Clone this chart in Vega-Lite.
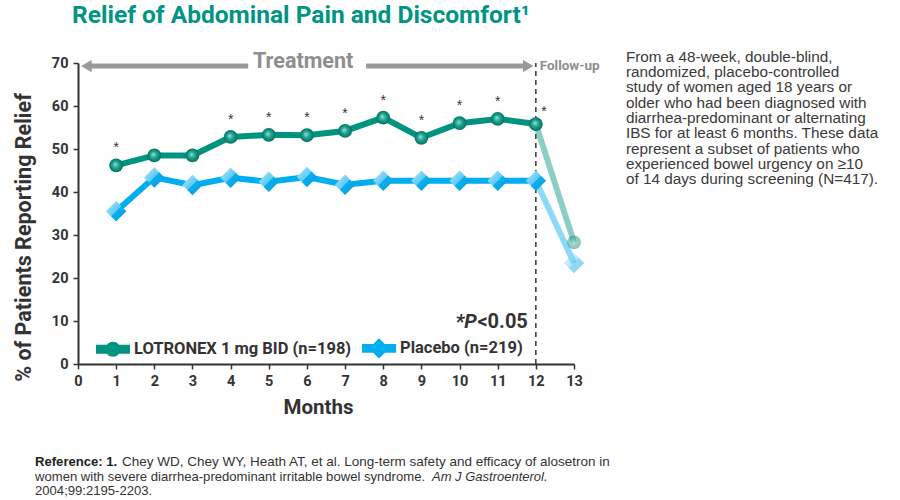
{
  "$schema": "https://vega.github.io/schema/vega-lite/v6.json",
  "width": 496,
  "height": 301,
  "autosize": {"type": "none"},
  "padding": {"left": 78, "top": 63, "right": 326, "bottom": 136},
  "background": "white",
  "title": {
    "text": "Relief of Abdominal Pain and Discomfort¹",
    "anchor": "start",
    "frame": "group",
    "dx": -6,
    "offset": 21,
    "font": "Roboto",
    "fontSize": 24.5,
    "fontWeight": "bold",
    "color": "#009484"
  },
  "config": {
    "view": {"stroke": null},
    "font": "Roboto",
    "axis": {
      "labelOverlap": false, "grid": false,
      "domainColor": "#333333", "domainWidth": 2, "tickColor": "#333333", "tickWidth": 1.5, "tickSize": 5,
      "labelFontSize": 14.5, "labelFontWeight": "bold", "labelColor": "#333333", "labelPadding": 5,
      "titleFontWeight": "bold", "titleColor": "#333333"
    },
    "axisX": {"labelFlush": false, "titleFontSize": 20.5, "titlePadding": 10},
    "axisY": {"titleFontSize": 21.5, "titlePadding": 16}
  },
  "datasets": {
    "d": [
      {"month": 1, "group": "LOTRONEX 1 mg BID (n=198)", "value": 46.2, "sig": true},
      {"month": 2, "group": "LOTRONEX 1 mg BID (n=198)", "value": 48.5, "sig": false},
      {"month": 3, "group": "LOTRONEX 1 mg BID (n=198)", "value": 48.5, "sig": false},
      {"month": 4, "group": "LOTRONEX 1 mg BID (n=198)", "value": 52.8, "sig": true},
      {"month": 5, "group": "LOTRONEX 1 mg BID (n=198)", "value": 53.3, "sig": true},
      {"month": 6, "group": "LOTRONEX 1 mg BID (n=198)", "value": 53.2, "sig": true},
      {"month": 7, "group": "LOTRONEX 1 mg BID (n=198)", "value": 54.2, "sig": true},
      {"month": 8, "group": "LOTRONEX 1 mg BID (n=198)", "value": 57.3, "sig": true},
      {"month": 9, "group": "LOTRONEX 1 mg BID (n=198)", "value": 52.6, "sig": true},
      {"month": 10, "group": "LOTRONEX 1 mg BID (n=198)", "value": 56.0, "sig": true},
      {"month": 11, "group": "LOTRONEX 1 mg BID (n=198)", "value": 57.0, "sig": true},
      {"month": 12, "group": "LOTRONEX 1 mg BID (n=198)", "value": 55.8, "sig": true},
      {"month": 13, "group": "LOTRONEX 1 mg BID (n=198)", "value": 28.3, "sig": false},
      {"month": 1, "group": "Placebo (n=219)", "value": 35.5, "sig": false},
      {"month": 2, "group": "Placebo (n=219)", "value": 43.4, "sig": false},
      {"month": 3, "group": "Placebo (n=219)", "value": 41.6, "sig": false},
      {"month": 4, "group": "Placebo (n=219)", "value": 43.3, "sig": false},
      {"month": 5, "group": "Placebo (n=219)", "value": 42.4, "sig": false},
      {"month": 6, "group": "Placebo (n=219)", "value": 43.5, "sig": false},
      {"month": 7, "group": "Placebo (n=219)", "value": 41.7, "sig": false},
      {"month": 8, "group": "Placebo (n=219)", "value": 42.6, "sig": false},
      {"month": 9, "group": "Placebo (n=219)", "value": 42.6, "sig": false},
      {"month": 10, "group": "Placebo (n=219)", "value": 42.6, "sig": false},
      {"month": 11, "group": "Placebo (n=219)", "value": 42.6, "sig": false},
      {"month": 12, "group": "Placebo (n=219)", "value": 42.6, "sig": false},
      {"month": 13, "group": "Placebo (n=219)", "value": 23.5, "sig": false}
    ]
  },
  "layer": [
    {
      "data": {"name": "d"},
      "transform": [{"filter": "datum.month <= 12"}],
      "mark": {"type": "line", "strokeWidth": 6},
      "encoding": {
        "x": {
          "field": "month", "type": "quantitative",
          "scale": {"domain": [0, 13], "nice": false, "zero": true},
          "axis": {"title": "Months", "values": [0,1,2,3,4,5,6,7,8,9,10,11,12,13], "labelOverlap": false, "titleX": 240}
        },
        "y": {
          "field": "value", "type": "quantitative",
          "scale": {"domain": [0, 70], "nice": false},
          "axis": {"title": "% of Patients Reporting Relief", "values": [0,10,20,30,40,50,60,70], "titleY": 174}
        },
        "color": {
          "field": "group", "type": "nominal",
          "scale": {"domain": ["LOTRONEX 1 mg BID (n=198)", "Placebo (n=219)"], "range": ["#00937f", "#00aeef"]},
          "legend": {
            "title": null, "orient": "none", "direction": "horizontal", "legendX": 18, "legendY": 268,
            "padding": 0, "symbolSize": 1156, "labelFontSize": 16.5, "labelFontWeight": "bold", "labelColor": "#333333",
            "labelOffset": 4, "columnPadding": 10, "labelLimit": 400,
            "encode": {
              "symbols": {
                "update": {
                  "shape": {"signal": "datum.value === 'Placebo (n=219)' ? 'M-1,-0.26L1,-0.26L1,0.26L-1,0.26Z M-0.6,0L0,-0.6L0.6,0L0,0.6Z' : 'M-1,-0.26L1,-0.26L1,0.26L-1,0.26Z M-0.44,0A0.44,0.44,0,1,1,0.44,0A0.44,0.44,0,1,1,-0.44,0Z'"},
                  "fill": {"signal": "datum.value === 'Placebo (n=219)' ? '#00aeef' : '#00937f'"},
                  "stroke": {"value": "transparent"},
                  "strokeWidth": {"value": 0},
                  "opacity": {"value": 1},
                  "fillOpacity": {"value": 1}
                }
              }
            }
          }
        }
      }
    },
    {
      "data": {"values": [{}]},
      "mark": {"type": "rule", "strokeDash": [5, 4], "strokeWidth": 1.5, "color": "#333333"},
      "encoding": {
        "x": {"datum": 12, "type": "quantitative", "axis": {"title": "Months", "values": [0,1,2,3,4,5,6,7,8,9,10,11,12,13], "labelOverlap": false}},
        "y": {"datum": 0, "type": "quantitative"},
        "y2": {"datum": 70}
      }
    },
    {
      "data": {"values": [{}]},
      "mark": {"type": "rule", "strokeWidth": 5, "color": "#999999"},
      "encoding": {
        "x": {"datum": 0.3, "type": "quantitative", "axis": {"title": "Months", "values": [0,1,2,3,4,5,6,7,8,9,10,11,12,13], "labelOverlap": false}},
        "x2": {"datum": 4.46},
        "y": {"datum": 69.3, "type": "quantitative"}
      }
    },
    {
      "data": {"values": [{}]},
      "mark": {"type": "rule", "strokeWidth": 5, "color": "#999999"},
      "encoding": {
        "x": {"datum": 7.55, "type": "quantitative", "axis": {"title": "Months", "values": [0,1,2,3,4,5,6,7,8,9,10,11,12,13], "labelOverlap": false}},
        "x2": {"datum": 11.7},
        "y": {"datum": 69.3, "type": "quantitative"}
      }
    },
    {
      "data": {"values": [{}]},
      "mark": {"type": "point", "shape": "triangle-left", "filled": true, "size": 150, "color": "#999999", "opacity": 1},
      "encoding": {
        "x": {"datum": 0.22, "type": "quantitative", "axis": {"title": "Months", "values": [0,1,2,3,4,5,6,7,8,9,10,11,12,13], "labelOverlap": false}},
        "y": {"datum": 69.3, "type": "quantitative"}
      }
    },
    {
      "data": {"values": [{}]},
      "mark": {"type": "point", "shape": "triangle-right", "filled": true, "size": 150, "color": "#999999", "opacity": 1},
      "encoding": {
        "x": {"datum": 11.8, "type": "quantitative", "axis": {"title": "Months", "values": [0,1,2,3,4,5,6,7,8,9,10,11,12,13], "labelOverlap": false}},
        "y": {"datum": 69.3, "type": "quantitative"}
      }
    },
    {
      "data": {"values": [{}]},
      "mark": {"type": "text", "text": "Treatment", "fontSize": 21.5, "fontWeight": "bold", "color": "#8e8e8e", "baseline": "middle", "align": "center"},
      "encoding": {
        "x": {"datum": 5.9, "type": "quantitative", "axis": {"title": "Months", "values": [0,1,2,3,4,5,6,7,8,9,10,11,12,13], "labelOverlap": false}},
        "y": {"datum": 70.3, "type": "quantitative"}
      }
    },
    {
      "data": {"values": [{}]},
      "mark": {"type": "text", "text": "Follow-up", "fontSize": 13.5, "fontWeight": "bold", "color": "#8e8e8e", "baseline": "middle", "align": "left"},
      "encoding": {
        "x": {"datum": 12.1, "type": "quantitative", "axis": {"title": "Months", "values": [0,1,2,3,4,5,6,7,8,9,10,11,12,13], "labelOverlap": false}},
        "y": {"datum": 69.2, "type": "quantitative"}
      }
    },
    {
      "data": {"name": "d"},
      "transform": [{"filter": "datum.month >= 12"}],
      "mark": {"type": "line", "strokeWidth": 6, "opacity": 0.45},
      "encoding": {
        "x": {"field": "month", "type": "quantitative", "axis": {"title": "Months", "values": [0,1,2,3,4,5,6,7,8,9,10,11,12,13], "labelOverlap": false}},
        "y": {"field": "value", "type": "quantitative"},
        "color": {"field": "group", "type": "nominal"}
      }
    },
    {
      "data": {"name": "d"},
      "transform": [{"filter": "datum.group === 'LOTRONEX 1 mg BID (n=198)'"}],
      "mark": {
        "type": "point", "shape": "circle", "size": 190, "filled": true, "strokeWidth": 0,
        "fill": {"gradient": "radial", "x1": 0.42, "y1": 0.42, "r1": 0, "x2": 0.5, "y2": 0.5, "r2": 0.5,
          "stops": [{"offset": 0, "color": "#9fe0d6"}, {"offset": 0.45, "color": "#22a795"}, {"offset": 1, "color": "#00705f"}]}
      },
      "encoding": {
        "x": {"field": "month", "type": "quantitative", "axis": {"title": "Months", "values": [0,1,2,3,4,5,6,7,8,9,10,11,12,13], "labelOverlap": false}},
        "y": {"field": "value", "type": "quantitative"},
        "opacity": {"condition": {"test": "datum.month > 12", "value": 0.45}, "value": 1}
      }
    },
    {
      "data": {"name": "d"},
      "transform": [{"filter": "datum.group === 'Placebo (n=219)'"}],
      "mark": {
        "type": "point", "shape": "diamond", "size": 420, "filled": true, "strokeWidth": 0,
        "fill": {"gradient": "linear", "x1": 0, "y1": 0, "x2": 1, "y2": 1,
          "stops": [{"offset": 0, "color": "#b5e8fb"}, {"offset": 0.49, "color": "#5fcaf4"}, {"offset": 0.5, "color": "#0cb0ef"}, {"offset": 1, "color": "#0398d8"}]}
      },
      "encoding": {
        "x": {"field": "month", "type": "quantitative", "axis": {"title": "Months", "values": [0,1,2,3,4,5,6,7,8,9,10,11,12,13], "labelOverlap": false}},
        "y": {"field": "value", "type": "quantitative"},
        "opacity": {"condition": {"test": "datum.month > 12", "value": 0.45}, "value": 1}
      }
    },
    {
      "data": {"name": "d"},
      "transform": [{"filter": "datum.sig && datum.month < 12"}],
      "mark": {"type": "text", "text": "*", "fontSize": 14, "color": "#333333", "dy": -17, "baseline": "middle", "font": "Liberation Sans"},
      "encoding": {
        "x": {"field": "month", "type": "quantitative", "axis": {"title": "Months", "values": [0,1,2,3,4,5,6,7,8,9,10,11,12,13], "labelOverlap": false}},
        "y": {"field": "value", "type": "quantitative"}
      }
    },
    {
      "data": {"name": "d"},
      "transform": [{"filter": "datum.sig && datum.month == 12"}],
      "mark": {"type": "text", "text": "*", "fontSize": 14, "color": "#333333", "dy": -12, "dx": 8, "baseline": "middle", "font": "Liberation Sans"},
      "encoding": {
        "x": {"field": "month", "type": "quantitative", "axis": {"title": "Months", "values": [0,1,2,3,4,5,6,7,8,9,10,11,12,13], "labelOverlap": false}},
        "y": {"field": "value", "type": "quantitative"}
      }
    },
    {
      "data": {"values": [{}]},
      "mark": {"type": "text", "text": "<0.05", "fontSize": 20, "fontWeight": "bold", "color": "#333333", "align": "right", "baseline": "alphabetic"},
      "encoding": {
        "x": {"datum": 11.79, "type": "quantitative", "axis": {"title": "Months", "values": [0,1,2,3,4,5,6,7,8,9,10,11,12,13], "labelOverlap": false}},
        "y": {"datum": 8.4, "type": "quantitative"}
      }
    },
    {
      "data": {"values": [{}]},
      "mark": {"type": "text", "text": "*P", "fontSize": 20, "fontWeight": "bold", "fontStyle": "italic", "color": "#333333", "align": "right", "baseline": "alphabetic", "dx": -51},
      "encoding": {
        "x": {"datum": 11.79, "type": "quantitative", "axis": {"title": "Months", "values": [0,1,2,3,4,5,6,7,8,9,10,11,12,13], "labelOverlap": false}},
        "y": {"datum": 8.4, "type": "quantitative"}
      }
    },
    {
      "data": {"values": [{}]},
      "mark": {
        "type": "text", "font": "Liberation Sans", "fontSize": 15.3, "lineHeight": 15.3, "color": "#3a3a3a", "align": "left", "baseline": "alphabetic",
        "text": ["From a 48-week, double-blind,", "randomized, placebo-controlled", "study of women aged 18 years or", "older who had been diagnosed with", "diarrhea-predominant or alternating", "IBS for at least 6 months. These data", "represent a subset of patients who", "experienced bowel urgency on ≥10", "of 14 days during screening (N=417)."]
      },
      "encoding": {
        "x": {"datum": 14.36, "type": "quantitative", "axis": {"title": "Months", "values": [0,1,2,3,4,5,6,7,8,9,10,11,12,13], "labelOverlap": false}},
        "y": {"datum": 70.3, "type": "quantitative"}
      }
    },
    {
      "data": {"values": [{}]},
      "mark": {"type": "text", "font": "Liberation Sans", "fontSize": 13.1, "fontWeight": "bold", "color": "#222222", "align": "left", "baseline": "alphabetic", "text": "Reference: 1."},
      "encoding": {
        "x": {"datum": -1.127, "type": "quantitative", "axis": {"title": "Months", "values": [0,1,2,3,4,5,6,7,8,9,10,11,12,13], "labelOverlap": false}},
        "y": {"datum": -23.7, "type": "quantitative"}
      }
    },
    {
      "data": {"values": [{}]},
      "mark": {"type": "text", "font": "Liberation Sans", "fontSize": 13.5, "color": "#333333", "align": "left", "baseline": "alphabetic", "dx": 87, "text": "Chey WD, Chey WY, Heath AT, et al. Long-term safety and efficacy of alosetron in"},
      "encoding": {
        "x": {"datum": -1.127, "type": "quantitative", "axis": {"title": "Months", "values": [0,1,2,3,4,5,6,7,8,9,10,11,12,13], "labelOverlap": false}},
        "y": {"datum": -23.7, "type": "quantitative"}
      }
    },
    {
      "data": {"values": [{}]},
      "mark": {"type": "text", "font": "Liberation Sans", "fontSize": 13.1, "lineHeight": 14.5, "color": "#333333", "align": "left", "baseline": "alphabetic", "text": ["women with severe diarrhea-predominant irritable bowel syndrome.", "2004;99:2195-2203."]},
      "encoding": {
        "x": {"datum": -1.127, "type": "quantitative", "axis": {"title": "Months", "values": [0,1,2,3,4,5,6,7,8,9,10,11,12,13], "labelOverlap": false}},
        "y": {"datum": -27.1, "type": "quantitative"}
      }
    },
    {
      "data": {"values": [{}]},
      "mark": {"type": "text", "font": "Liberation Sans", "fontSize": 13, "fontStyle": "italic", "color": "#333333", "align": "left", "baseline": "alphabetic", "dx": 397, "text": "Am J Gastroenterol."},
      "encoding": {
        "x": {"datum": -1.127, "type": "quantitative", "axis": {"title": "Months", "values": [0,1,2,3,4,5,6,7,8,9,10,11,12,13], "labelOverlap": false}},
        "y": {"datum": -27.1, "type": "quantitative"}
      }
    }
  ]
}
